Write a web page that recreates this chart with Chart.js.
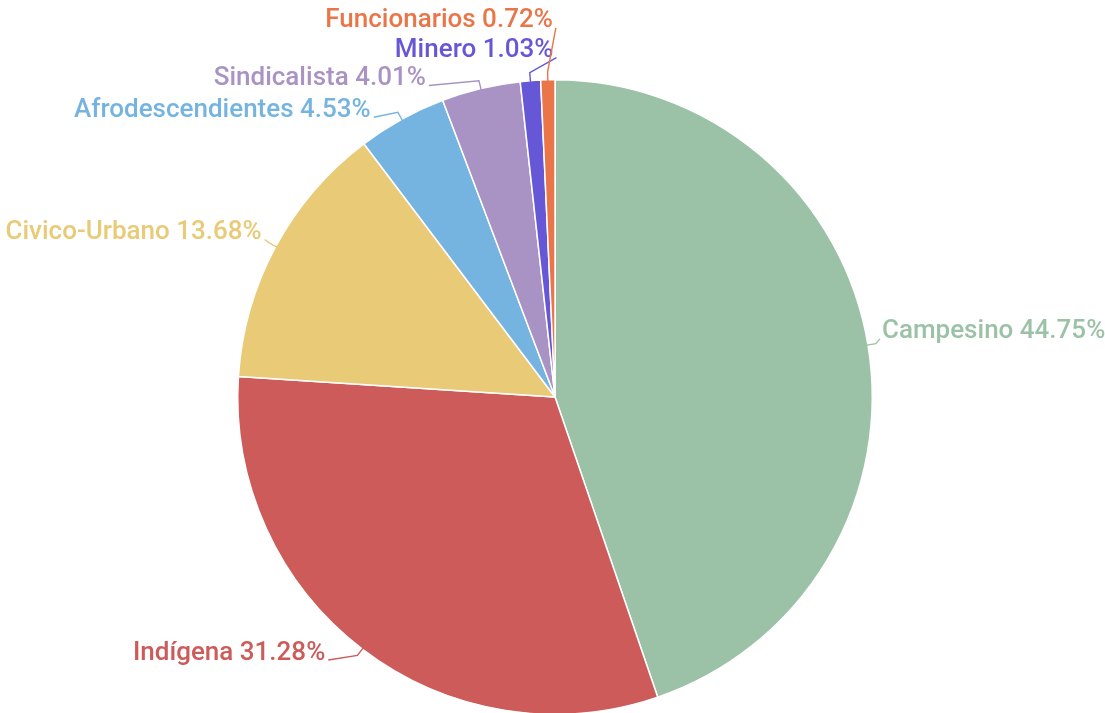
<!DOCTYPE html>
<html>
<head>
<meta charset="utf-8">
<script src="https://cdn.jsdelivr.net/npm/chart.js@4"></script>
<style>
  html, body { margin: 0; padding: 0; background: #fff; overflow: hidden; }
  #wrap { position: absolute; left: 0; top: 0; width: 1105px; height: 740px; }
</style>
</head>
<body>
<div id="wrap"><canvas id="pieChart"></canvas></div>
<script>
// Chart data
const categories = ["Campesino", "Indígena", "Civico-Urbano", "Afrodescendientes", "Sindicalista", "Minero", "Funcionarios"];
const shares = [44.75, 31.28, 13.68, 4.53, 4.01, 1.03, 0.72];
const colors = ["#9bc2a6", "#cc5b5a", "#e8ca77", "#75b4e0", "#a893c4", "#6657d6", "#ea7548"];

// label placement relative to the slice edge (style only)
const labelShift = [[14, -13], [-37, 4], [-14, -14], [-31, -9], [-55, -10], [23, -30], [5, -59]];
const labelAlign = ["left", "right", "right", "right", "right", "right", "right"];

// Draws "Name xx.xx%" labels with leader lines
const pieLabels = {
  id: "pieLabels",
  afterDatasetsDraw(chart) {
    const ctx = chart.ctx;
    const arcs = chart.getDatasetMeta(0).data;
    ctx.save();
    ctx.font = "500 26px Roboto";
    ctx.textBaseline = "middle";
    arcs.forEach((arc, i) => {
      const mid = (arc.startAngle + arc.endAngle) / 2;
      const cos = Math.cos(mid);
      const sin = Math.sin(mid);
      const r = arc.outerRadius;
      const ex = arc.x + cos * r;
      const ey = arc.y + sin * r;
      const lx = ex + labelShift[i][0];
      const ly = ey + labelShift[i][1];
      const left = labelAlign[i] === "left";

      // leader line
      ctx.strokeStyle = colors[i];
      ctx.lineWidth = 1.4;
      ctx.beginPath();
      ctx.moveTo(arc.x + cos * (r - 4), arc.y + sin * (r - 4));
      ctx.lineTo(arc.x + cos * (r + 8), arc.y + sin * (r + 8));
      ctx.lineTo(left ? lx - 2 : lx + 3, ly + 7);
      ctx.stroke();

      ctx.fillStyle = colors[i];
      ctx.textAlign = labelAlign[i];
      ctx.fillText(categories[i] + " " + shares[i].toFixed(2) + "%", lx, ly);
    });
    ctx.restore();
  },
};

new Chart(document.getElementById("pieChart"), {
  type: "pie",
  data: {
    labels: categories,
    datasets: [
      {
        data: shares,
        backgroundColor: colors,
        borderColor: "#ffffff",
        borderWidth: 1.5,
      },
    ],
  },
  options: {
    responsive: true,
    maintainAspectRatio: false,
    animation: false,
    layout: {
      padding: { left: 237, right: 232, top: 79, bottom: 25 },
    },
    plugins: {
      legend: { display: false },
      tooltip: { enabled: false },
    },
  },
  plugins: [pieLabels],
});
</script>
</body>
</html>
